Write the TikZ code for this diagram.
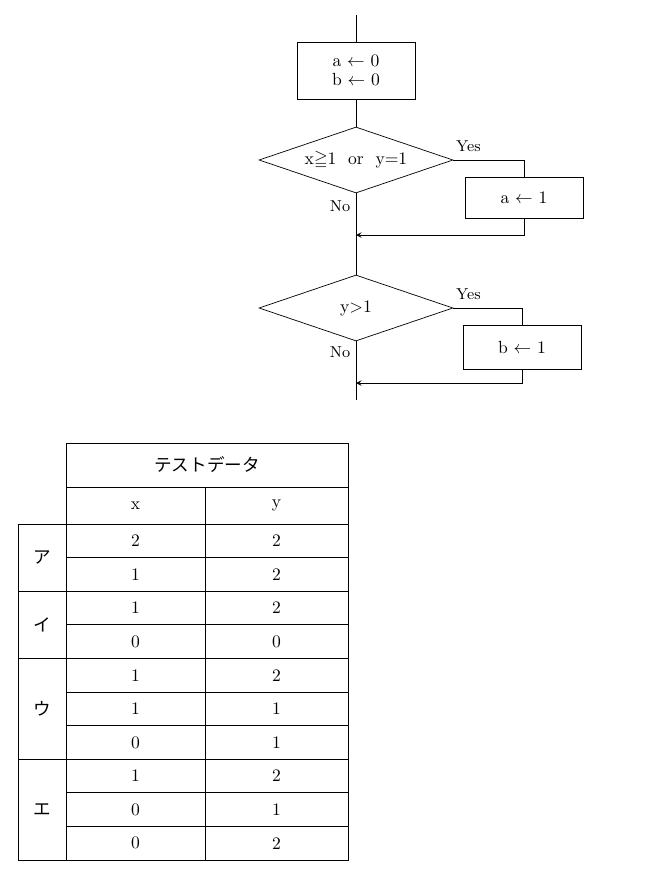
\documentclass[tikz,border=0pt]{standalone}
\usepackage{amsmath,amssymb}
\usepackage{fontspec}
\newfontfamily\jpfont{Noto Sans CJK JP}
\usetikzlibrary{calc,positioning,shapes.geometric}
\tikzset{
		>=stealth
	}
\begin{document}
\begin{tikzpicture}[x=0.02cm,y=-0.02cm,
    proc/.style={draw, minimum width=2.36cm, inner sep=0pt, align=center},
    decide/.style={draw, diamond, aspect=2.94, minimum width=3.88cm, minimum height=1.32cm, inner sep=0pt},
    lbl/.style={font=\small},
    cell/.style={inner sep=0pt}]
              \useasboundingbox (0,0) rectangle (665,876);

              % the flowchart
              \coordinate (start) at (356,15);
              \node[proc, minimum height=1.14cm] (init) at (356,70.5) {a $\leftarrow$ 0\\[-1pt] b $\leftarrow$ 0};
              \node[decide] (d1) at (356,160) {x$\geqq$1 \ or \ y$=$1};
              \node[proc, minimum height=0.82cm] (seta) at (524,197.5) {a $\leftarrow$ 1};
              \coordinate (join1) at (356,235);
              \node[decide] (d2) at (356,308) {y$>$1};
              \node[proc, minimum height=0.88cm] (setb) at (522,347) {b $\leftarrow$ 1};
              \coordinate (join2) at (356,383);
              \coordinate (stop) at (356,400);

              % the texts
              \node[lbl, anchor=south west] at (450,158) {Yes};
              \node[lbl, anchor=south west] at (450,306) {Yes};
              \node[lbl] at (340,206) {No};
              \node[lbl] at (340,352) {No};

              % draw the connectors
              \draw (start) -- (init);
              \draw (init) -- (d1);
              \draw (d1.east) -| (seta.north);
              \draw[->] (seta.south) |- (join1);
              \draw (d1.south) -- (d2.north);
              \draw (d2.east) -| (setb.north);
              \draw[->] (setb.south) |- (join2);
              \draw (d2.south) -- (stop);

              % the table
              \draw (66,443) rectangle (348,487);
              \draw (18,524) rectangle (348,860);
              \draw (66,487) -- (66,524) -- (348,524) -- (348,487) -- cycle;
              \draw (66,524) -- (66,860);
              \draw (205,487) -- (205,860);
              \foreach \r in {1,...,9}
                \draw (66,{524+33.6*\r}) -- (348,{524+33.6*\r});
              \foreach \r in {2,4,7}
                \draw (18,{524+33.6*\r}) -- (66,{524+33.6*\r});
              \node[cell, font=\jpfont] (head) at (207,465) {テストデータ};
              \node[cell] (hx) at (135.5,506) {x};
              \node[cell] (hy) at (276.5,506) {y};
              \foreach \v [count=\r from 0] in {{2/2},{1/2},{1/2},{0/0},{1/2},{1/1},{0/1},{1/2},{0/1},{0/2}}{
                \pgfmathsetmacro{\yy}{540.8+33.6*\r}
                \foreach \a/\b in \v {
                  \node[cell] (x\r) at (135.5,\yy) {\a};
                  \node[cell] (y\r) at (276.5,\yy) {\b};
                }
              }
              \node[cell, font=\jpfont] (ka) at (42,557.6) {ア};
              \node[cell, font=\jpfont] (ki) at (42,624.8) {イ};
              \node[cell, font=\jpfont] (ku) at (42,708.8) {ウ};
              \node[cell, font=\jpfont] (ke) at (42,809.6) {エ};
          \end{tikzpicture}
\end{document}
